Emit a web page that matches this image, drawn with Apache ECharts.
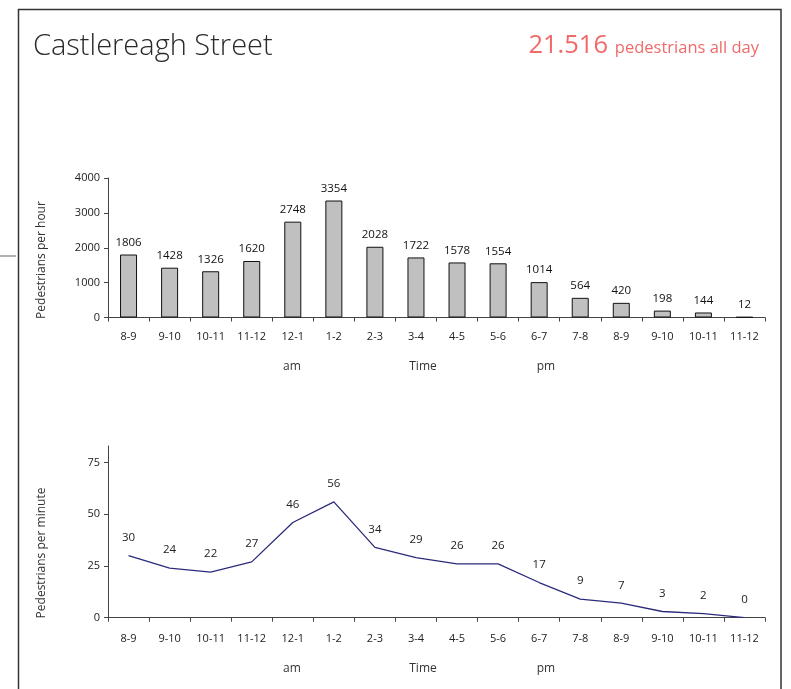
<!DOCTYPE html>
<html>
<head>
<meta charset="utf-8">
<script src="https://cdn.jsdelivr.net/npm/echarts@6/dist/echarts.min.js"></script>
<style>
  html, body { margin: 0; padding: 0; background: #fff; }
  #chart { width: 791px; height: 689px; }
</style>
</head>
<body>
<div id="chart"></div>
<script>
// hour slots, same for both panels
var timeSlots = ['8-9', '9-10', '10-11', '11-12', '12-1', '1-2', '2-3', '3-4', '4-5', '5-6', '6-7', '7-8', '8-9', '9-10', '10-11', '11-12']
var perHour = [1806, 1428, 1326, 1620, 2748, 3354, 2028, 1722, 1578, 1554, 1014, 564, 420, 198, 144, 12]
var perMinute = [30, 24, 22, 27, 46, 56, 34, 29, 26, 26, 17, 9, 7, 3, 2, 0]
var hourTicks = [0, 1000, 2000, 3000, 4000]
var minuteTicks = [0, 25, 50, 75]
var totalDay = '21.516'

var font = 'Open Sans'
var axisColor = '#444'

var chart = echarts.init(document.getElementById('chart'))

function catAxis(gridIndex, margin) {
  return {
    type: 'category',
    gridIndex: gridIndex,
    data: timeSlots,
    boundaryGap: true,
    axisLine: { lineStyle: { color: axisColor, width: 1 } },
    axisTick: { show: true, alignWithLabel: false, length: 4, lineStyle: { color: axisColor } },
    axisLabel: { color: '#222', fontFamily: font, fontSize: 11, margin: margin, interval: 0 },
    splitLine: { show: false }
  }
}

function valAxis(gridIndex, min, max, interval, ticks) {
  return {
    type: 'value',
    gridIndex: gridIndex,
    min: min,
    max: max,
    interval: interval,
    axisLine: { show: true, lineStyle: { color: axisColor, width: 1 } },
    axisTick: { show: true, length: 4, inside: false, lineStyle: { color: axisColor }, customValues: ticks },
    axisLabel: {
      color: '#222', fontFamily: font, fontSize: 11, margin: 8, customValues: ticks,
      formatter: function (v) { return String(v) }
    },
    splitLine: { show: false }
  }
}

var option = {
  backgroundColor: '#fff',
  animation: false,
  textStyle: { fontFamily: font },
  grid: [
    { left: 108, right: 26, top: 178, height: 139.5 },
    { left: 108, right: 26, top: 446, height: 171.7 }
  ],
  xAxis: [catAxis(0, 14), catAxis(1, 16)],
  yAxis: [
    valAxis(0, 0, 4000, 1000, hourTicks),
    valAxis(1, 0, 83, 25, minuteTicks)
  ],
  series: [
    {
      type: 'bar',
      xAxisIndex: 0,
      yAxisIndex: 0,
      data: perHour,
      barWidth: 17,
      itemStyle: { color: '#c0c0c0', borderColor: '#111', borderWidth: 1 },
      label: { show: true, position: 'top', distance: 6, color: '#111', fontFamily: font, fontSize: 11.5 }
    },
    {
      type: 'line',
      xAxisIndex: 1,
      yAxisIndex: 1,
      data: perMinute,
      symbol: 'circle',
      symbolSize: 0,
      showSymbol: true,
      itemStyle: { color: '#2b2b7c' },
      lineStyle: { color: '#2b2b7c', width: 1.3 },
      label: { show: true, position: 'top', distance: 12, color: '#222', fontFamily: font, fontSize: 11.5 }
    }
  ],
  graphic: [
    { type: 'rect', silent: true, shape: { x: 18.5, y: 9.5, width: 762.5, height: 700 },
      style: { fill: 'none', stroke: '#333', lineWidth: 1.5 } },
    { type: 'line', silent: true, shape: { x1: 0, y1: 256, x2: 16, y2: 256 },
      style: { stroke: '#999', lineWidth: 1.5 } },
    { type: 'text', left: 33, top: 32,
      style: { text: 'Castlereagh Street', fill: '#2a2a2a', font: '300 29px "Open Sans"' } },
    { type: 'text', right: 183, top: 33,
      style: { text: totalDay, fill: '#f06a6a', font: '25.5px "Open Sans"' } },
    { type: 'text', right: 32, top: 40,
      style: { text: 'pedestrians all day', fill: '#f06a6a', font: '16.5px "Open Sans"' } },
    { type: 'text', x: 42, y: 260, rotation: Math.PI / 2,
      style: { text: 'Pedestrians per hour', fill: '#333', font: '12px "Open Sans"', align: 'center', verticalAlign: 'middle' } },
    { type: 'text', x: 42, y: 553, rotation: Math.PI / 2,
      style: { text: 'Pedestrians per minute', fill: '#333', font: '12px "Open Sans"', align: 'center', verticalAlign: 'middle' } },
    { type: 'text', x: 292, y: 367, style: { text: 'am', fill: '#333', font: '12px "Open Sans"', align: 'center', verticalAlign: 'middle' } },
    { type: 'text', x: 423, y: 367, style: { text: 'Time', fill: '#333', font: '12px "Open Sans"', align: 'center', verticalAlign: 'middle' } },
    { type: 'text', x: 546, y: 367, style: { text: 'pm', fill: '#333', font: '12px "Open Sans"', align: 'center', verticalAlign: 'middle' } },
    { type: 'text', x: 292, y: 669, style: { text: 'am', fill: '#333', font: '12px "Open Sans"', align: 'center', verticalAlign: 'middle' } },
    { type: 'text', x: 423, y: 669, style: { text: 'Time', fill: '#333', font: '12px "Open Sans"', align: 'center', verticalAlign: 'middle' } },
    { type: 'text', x: 546, y: 669, style: { text: 'pm', fill: '#333', font: '12px "Open Sans"', align: 'center', verticalAlign: 'middle' } }
  ]
}

chart.setOption(option)
</script>
</body>
</html>
